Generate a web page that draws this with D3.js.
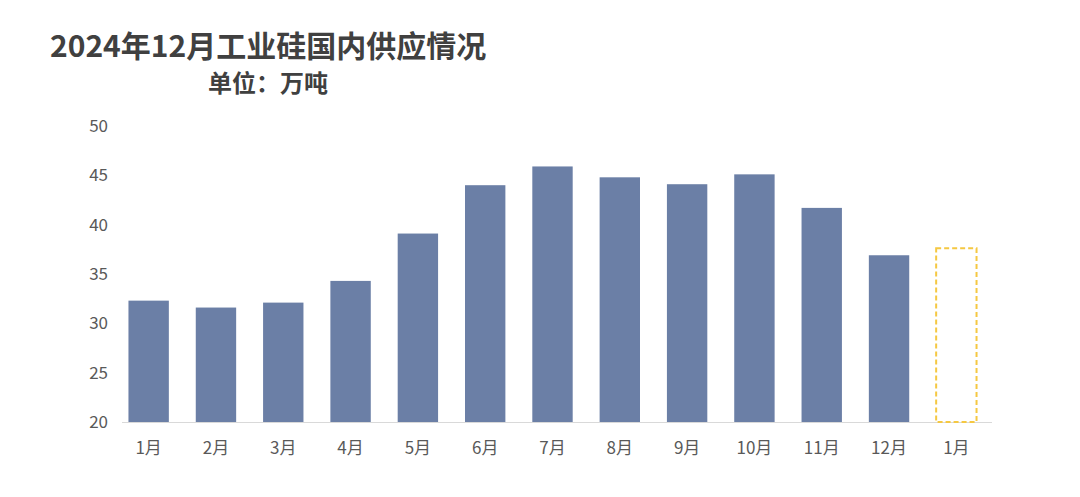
<!DOCTYPE html>
<html><head><meta charset="utf-8">
<script src="https://cdn.jsdelivr.net/npm/d3@7"></script>
<style>body{margin:0;background:#fff;font-family:"Noto Sans CJK SC","Noto Sans",sans-serif;}</style>
</head><body><svg id="c" width="1080" height="497"></svg>
<script>
const categories=["1月","2月","3月","4月","5月","6月","7月","8月","9月","10月","11月","12月","1月"];
const values=[32.3,31.6,32.1,34.3,39.1,44.0,45.9,44.8,44.1,45.1,41.7,36.9,37.6];
const forecast=[false,false,false,false,false,false,false,false,false,false,false,false,true];
const yTicks=[20,25,30,35,40,45,50];
const svg=d3.select("#c");
const x=d3.scaleBand().domain(d3.range(categories.length)).range([115,990]).paddingInner(0.4).paddingOuter(0.2);
const y=d3.scaleLinear().domain([20,50]).range([422,126]);
svg.append("text").attr("x",50).attr("y",57).attr("font-size",30).attr("font-weight","bold").attr("fill","#404040").text("2024年12月工业硅国内供应情况");
svg.append("text").attr("x",208).attr("y",92).attr("font-size",24).attr("font-weight","bold").attr("fill","#404040").text("单位：万吨");
svg.selectAll(".yt").data(yTicks).join("text").attr("x",108).attr("y",d=>y(d)+6).attr("text-anchor","end").attr("font-size",17).attr("fill","#595959").text(d=>d);
svg.append("line").attr("x1",122).attr("x2",992).attr("y1",422.5).attr("y2",422.5).attr("stroke","#d9d9d9");
svg.selectAll(".b").data(values).join("rect")
 .attr("x",(d,i)=>x(i)).attr("width",x.bandwidth())
 .attr("y",d=>y(d)).attr("height",d=>y(20)-y(d))
 .attr("fill",(d,i)=>forecast[i]?"none":"#6b7fa6")
 .attr("stroke",(d,i)=>forecast[i]?"#f5c842":"none")
 .attr("stroke-width",2).attr("stroke-dasharray",(d,i)=>forecast[i]?"5,3":null);
svg.selectAll(".xl").data(categories).join("text").attr("x",(d,i)=>x(i)+x.bandwidth()/2).attr("y",454).attr("text-anchor","middle").attr("font-size",17).attr("fill","#595959").text(d=>d);
</script></body></html>
